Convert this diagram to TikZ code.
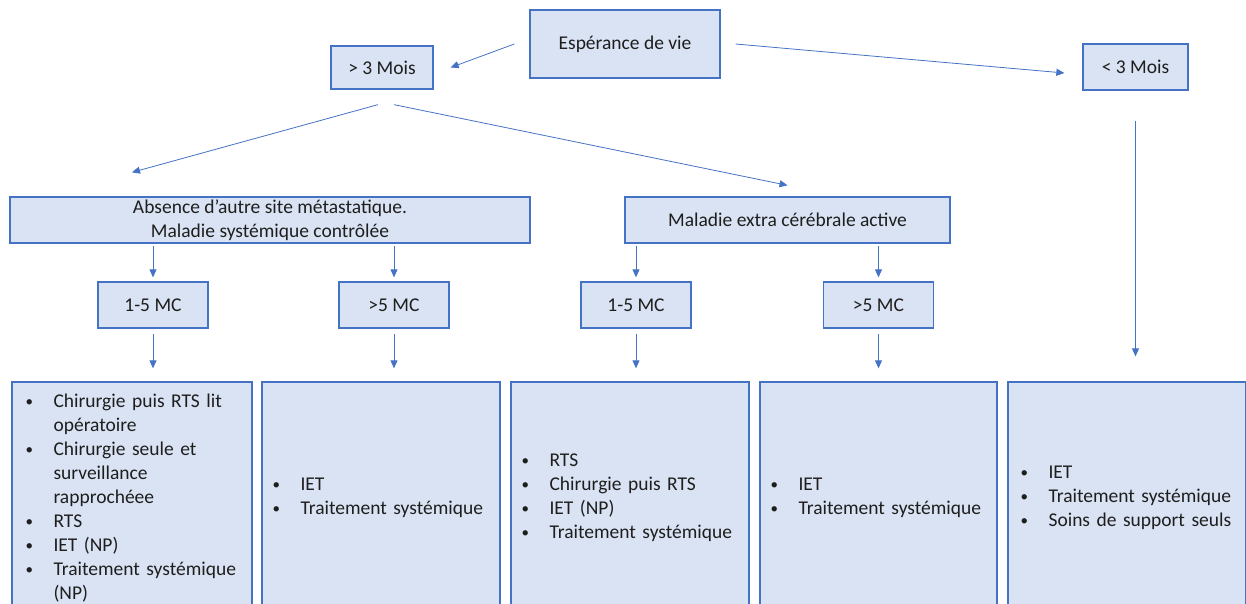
\documentclass[tikz,border=0pt]{standalone}
\usepackage{fontspec}
\setmainfont{Carlito}
\usetikzlibrary{arrows.meta}
\definecolor{boxfill}{HTML}{DAE3F3}
\definecolor{boxline}{HTML}{4472C4}
\definecolor{arrline}{HTML}{4472C4}
\definecolor{txt}{HTML}{1E1E1E}
\newcommand{\bitem}[1]{\hangindent=30pt\hangafter=1\noindent\makebox[30pt][l]{\hspace{2pt}\raisebox{1pt}{\fontsize{15}{24}\selectfont•}}#1\par}
\tikzset{
  box/.style={draw=boxline, fill=boxfill, line width=1.3pt, inner sep=0pt, align=center,
    text=txt, font=\fontsize{19.5}{24}\selectfont},
  listtxt/.style={inner sep=0pt, anchor=west, text width=225pt, align=left, text=txt,
    font=\fontsize{19.5}{24}\selectfont},
  arr/.style={draw=arrline, line width=0.8pt, -{Triangle[length=8pt,width=7pt]}}
}
\begin{document}
\begin{tikzpicture}[x=1pt,y=-1pt]
\useasboundingbox (0,0) rectangle (1246,604);
\clip (0,0) rectangle (1246,604);
% top level
\node[box, minimum width=190pt, minimum height=68pt] (E) at (625,44) {Espérance de vie};
\node[box, minimum width=102pt, minimum height=43pt] (M3) at (382,67.5) {> 3 Mois};
\node[box, minimum width=105pt, minimum height=46pt] (L3) at (1135.5,67) {< 3 Mois};
% second level
\node[box, minimum width=520pt, minimum height=46pt] (A) at (270,220) {Absence d’autre site métastatique.\\Maladie systémique contrôlée};
\node[box, minimum width=325pt, minimum height=46pt] (X) at (787.5,220) {Maladie extra cérébrale active};
% MC level
\node[box, minimum width=110pt, minimum height=46pt] (M1) at (153,305) {1-5 MC};
\node[box, minimum width=110pt, minimum height=46pt] (M2) at (394,305) {>5 MC};
\node[box, minimum width=110pt, minimum height=46pt] (M4) at (636,305) {1-5 MC};
\node[box, minimum width=110pt, minimum height=46pt] (M5) at (878.5,305) {>5 MC};
% bottom boxes
\node[box, minimum width=240pt, minimum height=226pt] (B1) at (132,495) {};
\node[box, minimum width=238pt, minimum height=226pt] (B2) at (381,495) {};
\node[box, minimum width=238pt, minimum height=226pt] (B3) at (630,495) {};
\node[box, minimum width=237pt, minimum height=226pt] (B4) at (878.5,495) {};
\node[box, minimum width=238pt, minimum height=226pt] (B5) at (1127,495) {};
\node[listtxt] (T1) at ([xshift=12pt,yshift=-3pt]B1.west) {%
\bitem{Chirurgie puis RTS lit\newline opératoire}%
\bitem{Chirurgie seule et\newline surveillance\newline rapprochéee}%
\bitem{RTS}%
\bitem{IET (NP)}%
\bitem{Traitement systémique\newline (NP)}};
\node[listtxt] (T2) at ([xshift=9pt,yshift=-3pt]B2.west) {%
\bitem{IET}%
\bitem{Traitement systémique}};
\node[listtxt] (T3) at ([xshift=9pt,yshift=-3pt]B3.west) {%
\bitem{RTS}%
\bitem{Chirurgie puis RTS}%
\bitem{IET (NP)}%
\bitem{Traitement systémique}};
\node[listtxt] (T4) at ([xshift=9pt,yshift=-3pt]B4.west) {%
\bitem{IET}%
\bitem{Traitement systémique}};
\node[listtxt] (T5) at ([xshift=11pt,yshift=-3pt]B5.west) {%
\bitem{IET}%
\bitem{Traitement systémique}%
\bitem{Soins de support seuls}};
% connectors
\draw[arr] ([xshift=-15pt]E.west) -- ([xshift=17pt]M3.east);
\draw[arr] ([xshift=15pt]E.east) -- ([xshift=-18pt,yshift=-6pt]L3.west);
\draw[arr] ([xshift=-4pt,yshift=-15pt]M3.south) -- ([xshift=-138pt,yshift=24pt]A.north);
\draw[arr] ([xshift=12pt,yshift=-15pt]M3.south) -- ([yshift=11pt]X.north);
\draw[arr, shorten <=30pt, shorten >=25pt] (L3.south) -- (B5.north -| L3.south);
\foreach \m/\p in {M1/A, M2/A, M4/X, M5/X}{
  \draw[arr, shorten <=2pt, shorten >=4pt] (\m.north |- \p.south) -- (\m.north);
}
\foreach \m/\b in {M1/B1, M2/B2, M4/B3, M5/B4}{
  \draw[arr, shorten <=5pt, shorten >=13pt] (\m.south) -- (\b.north -| \m.south);
}
\end{tikzpicture}
\end{document}
